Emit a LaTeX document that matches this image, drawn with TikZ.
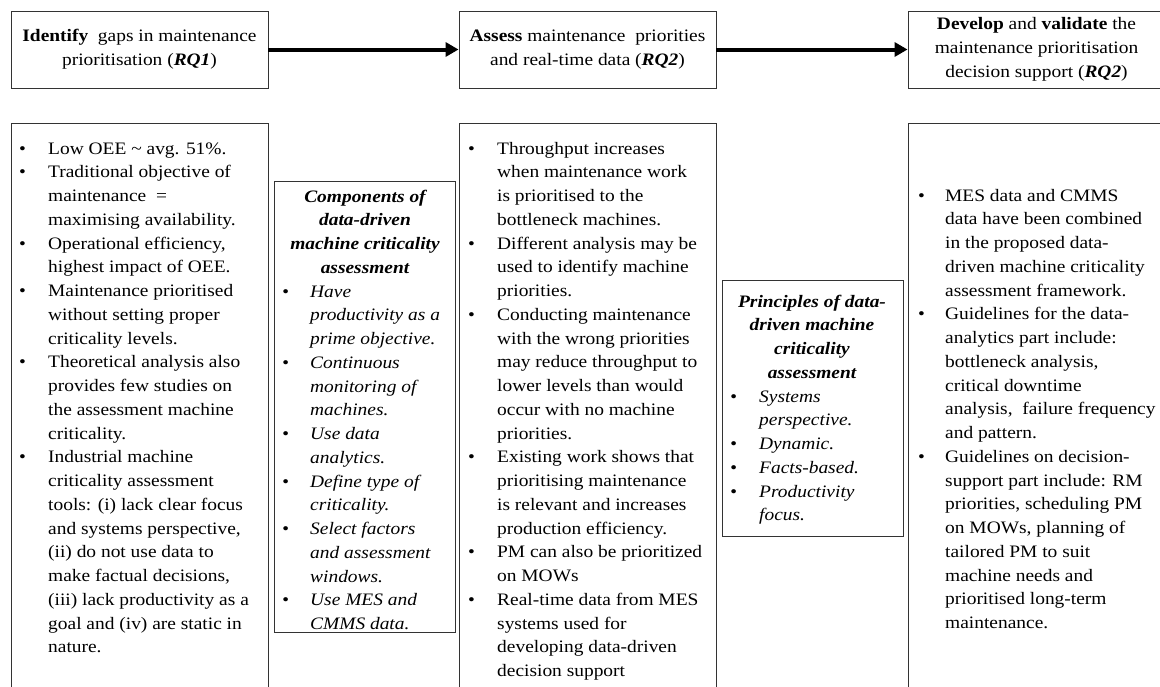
\documentclass[tikz,border=0pt]{standalone}
\usepackage{fontspec}
\setmainfont{Liberation Serif}[FakeStretch=1.11]
\usetikzlibrary{arrows.meta}

\tikzset{
  stage/.style={draw=black!80, line width=0.9pt, inner sep=0pt, align=center,
    minimum width=257pt, minimum height=77pt, font=\fontsize{17.5}{23.75}\selectfont},
  flow/.style={line width=4pt, -{Triangle[length=13pt,width=14pt]}},
  panel/.style={draw=black!80, line width=0.9pt},
  txt/.style={inner sep=0pt, anchor=base west, font=\fontsize{17.5}{23.75}\selectfont},
  head/.style={inner sep=0pt, anchor=base, font=\fontsize{17.5}{23.75}\selectfont\bfseries\itshape}
}

\begin{document}
\begin{tikzpicture}[x=1pt,y=-1pt]
\useasboundingbox (0,0) rectangle (1160,686);

% research steps
\node[stage] (identify) at (139.5,49.5)
  {\textbf{Identify}\ \ gaps in maintenance\\prioritisation (\textbf{\textit{RQ1}})};
\node[stage] (assess) at (587.5,49.5)
  {\textbf{Assess} maintenance\ \ priorities\\and real-time data (\textbf{\textit{RQ2}})};
\node[stage] (develop) at (1036.5,49.5)
  {\textbf{Develop} and \textbf{validate} the\\maintenance prioritisation\\decision support (\textbf{\textit{RQ2}})};
\draw[flow] (identify) -- (assess);
\draw[flow] (assess) -- (develop);

% panels
\draw[panel] (11,123) rectangle (268,700);
\draw[panel] (274,181) rectangle (455,632);
\draw[panel] (459,123) rectangle (716,700);
\draw[panel] (722,280) rectangle (903,536);
\draw[panel] (908,123) rectangle (1165,700);

% findings RQ1
\node[txt] (gaps) at (19,154) {\begin{tabular}[t]{@{}p{29pt}@{}l@{}}
\textbullet & Low OEE \textasciitilde{} avg. 51\%.\\
\textbullet & Traditional objective of\\
 & maintenance\ \ =\\
 & maximising availability.\\
\textbullet & Operational efficiency,\\
 & highest impact of OEE.\\
\textbullet & Maintenance prioritised\\
 & without setting proper\\
 & criticality levels.\\
\textbullet & Theoretical analysis also\\
 & provides few studies on\\
 & the assessment machine\\
 & criticality.\\
\textbullet & Industrial machine\\
 & criticality assessment\\
 & tools: (i) lack clear focus\\
 & and systems perspective,\\
 & (ii) do not use data to\\
 & make factual decisions,\\
 & (iii) lack productivity as a\\
 & goal and (iv) are static in\\
 & nature.
\end{tabular}};

\node[head] (comphead) at (365,202) {\begin{tabular}[t]{@{}c@{}}
Components of\\data-driven\\machine criticality\\assessment
\end{tabular}};
\node[txt] (comp) at (282,297) {\itshape\begin{tabular}[t]{@{}p{28pt}@{}l@{}}
\textbullet & Have\\
 & productivity as a\\
 & prime objective.\\
\textbullet & Continuous\\
 & monitoring of\\
 & machines.\\
\textbullet & Use data\\
 & analytics.\\
\textbullet & Define type of\\
 & criticality.\\
\textbullet & Select factors\\
 & and assessment\\
 & windows.\\
\textbullet & Use MES and\\
 & CMMS data.
\end{tabular}};

% findings RQ2
\node[txt] (prio) at (468,154) {\begin{tabular}[t]{@{}p{29pt}@{}l@{}}
\textbullet & Throughput increases\\
 & when maintenance work\\
 & is prioritised to the\\
 & bottleneck machines.\\
\textbullet & Different analysis may be\\
 & used to identify machine\\
 & priorities.\\
\textbullet & Conducting maintenance\\
 & with the wrong priorities\\
 & may reduce throughput to\\
 & lower levels than would\\
 & occur with no machine\\
 & priorities.\\
\textbullet & Existing work shows that\\
 & prioritising maintenance\\
 & is relevant and increases\\
 & production efficiency.\\
\textbullet & PM can also be prioritized\\
 & on MOWs\\
\textbullet & Real-time data from MES\\
 & systems used for\\
 & developing data-driven\\
 & decision support
\end{tabular}};

\node[head] (princhead) at (812,307) {\begin{tabular}[t]{@{}c@{}}
Principles of data-\\driven machine\\criticality\\assessment
\end{tabular}};
\node[txt] (princ) at (730,402) {\itshape\begin{tabular}[t]{@{}p{29pt}@{}l@{}}
\textbullet & Systems\\
 & perspective.\\
\textbullet & Dynamic.\\
\textbullet & Facts-based.\\
\textbullet & Productivity\\
 & focus.
\end{tabular}};

% findings RQ3
\node[txt] (support) at (918,201) {\begin{tabular}[t]{@{}p{27pt}@{}l@{}}
\textbullet & MES data and CMMS\\
 & data have been combined\\
 & in the proposed data-\\
 & driven machine criticality\\
 & assessment framework.\\
\textbullet & Guidelines for the data-\\
 & analytics part include:\\
 & bottleneck analysis,\\
 & critical downtime\\
 & analysis,\ \ failure frequency\\
 & and pattern.\\
\textbullet & Guidelines on decision-\\
 & support part include: RM\\
 & priorities, scheduling PM\\
 & on MOWs, planning of\\
 & tailored PM to suit\\
 & machine needs and\\
 & prioritised long-term\\
 & maintenance.
\end{tabular}};
\end{tikzpicture}
\end{document}
